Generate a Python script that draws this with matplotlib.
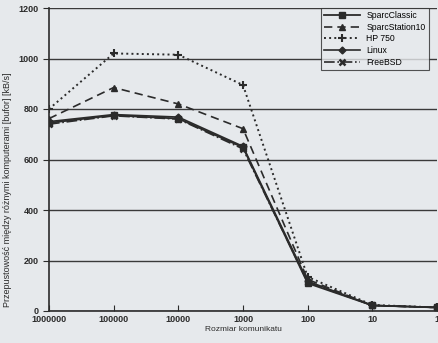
import matplotlib
matplotlib.use('Agg')
from matplotlib import pyplot as plt
import numpy as np

plt.rcParams['font.family'] = ['Liberation Sans', 'DejaVu Sans']

# rozmiar komunikatu (os X, kategorie)
sizes = ['1000000', '100000', '10000', '1000', '100', '10', '1']

sparc_classic = [745, 775, 762, 648, 110, 22, 14]
sparc_station10 = [762, 885, 820, 722, 125, 22, 14]
hp_750 = [800, 1020, 1015, 895, 135, 24, 14]
linux = [750, 778, 768, 652, 118, 22, 14]
freebsd = [740, 773, 760, 642, 114, 22, 14]

bg = '#e6e9ec'
ink = '#2b2b2b'

fig = plt.figure(figsize=(4.39, 3.43), dpi=100, facecolor=bg)
ax = fig.add_axes([49/439, 1 - 311/343, 388/439, 303/343])
ax.set_facecolor(bg)

x = np.arange(len(sizes))
ax.plot(x, sparc_classic, '-', color=ink, lw=1.3, marker='s', ms=4.5, label='SparcClassic')
ax.plot(x, sparc_station10, '--', color=ink, lw=1.2, dashes=(5, 3), marker='^', ms=4.5, label='SparcStation10')
ax.plot(x, hp_750, ':', color=ink, lw=1.4, marker='+', ms=6, mew=1.5, label='HP 750')
ax.plot(x, linux, '-', color=ink, lw=1.2, marker='D', ms=3.5, label='Linux')
ax.plot(x, freebsd, '-.', color=ink, lw=1.2, marker='x', ms=4.5, mew=1.8, label='FreeBSD')

ax.set_xlim(0, 6)
ax.set_ylim(0, 1200)
ax.set_xticks(x)
ax.set_xticklabels(sizes, fontweight='bold')
ax.set_yticks(np.arange(0, 1201, 200))
for t in ax.get_yticklabels():
    t.set_fontweight('bold')
ax.yaxis.grid(True, color='#3a3a3a', lw=1.0)
ax.set_axisbelow(True)
ax.tick_params(axis='x', direction='in', length=4, labelsize=6.5, colors=ink, pad=3)
ax.tick_params(axis='y', direction='out', length=4, labelsize=6.5, colors=ink)
for s in ['top', 'right']:
    ax.spines[s].set_visible(False)
for s in ['left', 'bottom']:
    ax.spines[s].set_color(ink)
    ax.spines[s].set_linewidth(1.2)

ax.set_xlabel('Rozmiar komunikatu', fontsize=6, color=ink, labelpad=1)
ax.set_ylabel('Przepustowość między różnymi komputerami [bufor] [kB/s]', fontsize=6.5, color=ink, labelpad=2)
ax.yaxis.set_label_coords(-0.095, 0.4)

leg = ax.legend(loc='upper right', bbox_to_anchor=(433/439, 1 - 4/343), bbox_transform=fig.transFigure,
                fontsize=6.2, frameon=True, fancybox=False, handlelength=4.2, labelspacing=0.3,
                borderpad=0.35, handletextpad=0.7)
leg.get_frame().set_edgecolor(ink)
leg.get_frame().set_facecolor(bg)
leg.get_frame().set_linewidth(0.8)

fig.savefig('out.png', dpi=100, facecolor=bg)
